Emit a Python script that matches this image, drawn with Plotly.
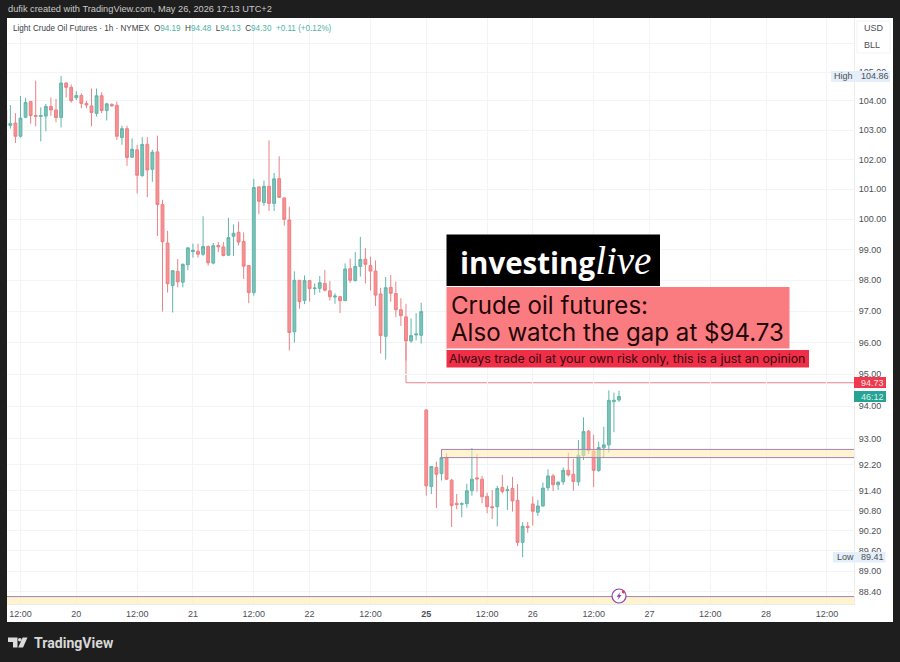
import numpy as np
import plotly.graph_objects as go

opens = [103.69,103.16,103.24,102.79,103.44,103.98,103.50,103.47,103.48,103.81,103.69,103.43,104.62,104.47,104.11,104.19,103.91,103.83,103.57,104.18,103.67,103.88,103.85,102.75,103.05,102.08,102.33,101.46,102.52,101.67,
102.26,100.49,99.22,97.83,98.29,97.94,98.51,98.94,98.95,98.85,99.10,98.56,99.14,
99.09,98.82,99.44,99.57,99.27,98.48,97.60,101.08,100.56,101.10,100.53,101.36,100.71,99.98,96.34,98.00,97.35,97.99,97.73,97.74,97.90,97.66,97.46,97.47,97.34,98.38,97.99,98.45,98.69,98.48,98.30,97.56,96.20,97.77,97.57,97.05,96.82,96.05,96.24,96.23,
93.88,91.53,92.11,91.92,92.41,91.72,91.02,90.99,91.01,91.40,91.79,91.75,91.23,90.92,90.92,91.50,91.40,91.47,91.11,89.85,90.33,91.00,90.75,90.94,91.49,91.85,91.58,91.67,92.02,91.90,91.67,92.47,93.22,92.61,92.01,92.71,92.80,94.14,94.19]
highs = [103.75,103.86,103.58,104.17,104.11,103.98,104.70,103.78,103.90,104.12,104.07,104.86,104.64,104.57,104.34,104.26,104.00,104.43,104.43,104.30,103.94,103.92,103.98,103.15,103.15,102.72,102.50,102.76,102.76,102.33,
102.81,100.65,99.62,98.32,98.69,98.55,99.06,99.20,99.20,100.10,99.14,99.22,99.25,
99.25,100.05,99.83,99.92,99.57,98.49,101.35,101.10,101.29,102.65,101.55,102.11,100.73,100.42,98.29,98.01,98.16,98.01,97.90,98.14,98.34,97.98,97.58,97.49,98.55,98.71,98.92,99.42,99.05,98.77,98.65,97.76,98.11,98.17,97.96,97.42,97.24,96.77,96.94,97.27,
93.90,92.15,92.29,92.42,92.54,91.76,91.30,91.05,91.61,92.70,92.52,91.85,91.34,91.42,91.55,91.88,91.55,91.82,91.60,90.45,90.46,91.23,91.12,91.65,92.05,91.91,91.68,92.11,92.56,92.37,92.95,93.65,93.26,93.11,92.90,93.36,94.49,94.42,94.48]
lows = [103.10,103.05,102.56,102.75,103.41,103.22,103.13,102.62,102.96,103.49,103.27,103.09,104.12,103.94,104.03,103.75,103.75,103.13,103.47,103.58,103.33,103.81,102.67,102.50,101.79,102.05,100.86,101.42,100.74,101.25,
99.45,96.99,97.60,96.96,97.77,97.77,98.33,98.74,98.74,98.80,98.48,98.52,98.92,
98.78,98.80,98.80,99.14,98.04,97.26,97.50,100.17,100.45,100.28,100.28,100.73,99.79,95.75,96.00,97.08,97.23,97.31,97.53,97.60,97.64,97.34,97.24,96.94,97.34,97.92,97.96,98.12,97.90,97.67,97.17,95.65,95.46,97.31,96.81,96.53,95.43,95.99,96.07,95.97,
91.25,91.30,90.88,91.71,91.73,90.31,90.84,90.60,90.89,91.25,91.37,91.02,90.72,90.55,90.33,91.32,90.82,90.77,89.74,89.41,90.14,90.35,90.64,90.92,91.40,91.39,91.42,91.58,91.83,91.40,91.55,92.34,92.52,91.51,91.98,92.42,92.56,93.19,94.13]
closes = [103.13,103.23,102.79,103.41,103.95,103.50,103.47,103.50,103.81,103.69,103.43,104.62,104.47,104.01,104.19,103.91,103.86,103.60,104.18,103.67,103.90,103.83,102.79,103.05,102.07,102.35,101.47,102.51,101.65,102.25,
100.49,99.26,97.89,98.31,97.95,98.52,99.06,98.98,98.85,99.10,98.57,99.13,99.09,
98.81,99.40,99.54,99.25,98.46,97.60,101.06,100.60,101.10,100.53,101.35,100.73,100.00,96.32,98.00,97.31,97.99,97.73,97.75,97.92,97.68,97.47,97.49,97.34,98.37,98.00,98.45,98.68,98.52,98.30,97.52,96.22,97.76,97.58,97.05,96.86,96.05,96.22,96.27,96.99,
91.55,92.14,91.90,92.41,91.75,90.95,90.98,91.01,91.40,91.75,91.76,91.22,90.92,90.89,91.47,91.38,91.43,91.09,89.85,90.33,90.29,90.78,90.94,91.48,91.85,91.58,91.66,92.02,91.88,91.68,92.48,93.21,92.62,92.02,92.72,92.80,94.18,94.18,94.30]
bar_index = list(range(1, len(opens) + 1))

x_tick_pos = [4, 15, 27, 38, 50, 61, 73, 84, 96, 105, 117, 128, 140, 151, 163]
x_tick_text = ["12:00", "20", "12:00", "21", "12:00", "22", "12:00", "<b>25</b>", "12:00", "26", "12:00", "27", "12:00", "28", "12:00"]
y_tick_vals = [106, 105, 104, 103, 102, 101, 100, 99, 98, 97, 96, 95, 94, 93, 92.2, 91.4, 90.8, 90.2, 89.6, 89, 88.4]
y_tick_text = [""] + [f"{v:.2f}" for v in y_tick_vals[1:]]

gap_price = 94.73
gap_start_bar = 80
gap_start_price = 96.05
zone1 = (87, 92.41, 92.66)
zone2 = (88.25, 87.5)
session_high = 104.86
session_low = 89.41
last_close = 94.30

W, H = 900, 662
L, R, T, B = 7, 854, 18, 604
X_RANGE = [1.34, 168.33]
Y_RANGE = [1.94465, 2.02897]
GRID = "#f3f4f6"
TXT = "#4c4f57"
FONT = "Liberation Sans"
DARK = "#1e1e1e"


def px(x):
    return (x - L) / (R - L)


def py(y):
    return (B - y) / (B - T)


def rect(x0, y0, x1, y1, fill, line=None, layer="below"):
    return dict(type="rect", xref="paper", yref="paper", x0=px(x0), x1=px(x1), y0=py(y0), y1=py(y1),
                fillcolor=fill, line=dict(color=line or fill, width=1 if line else 0), layer=layer)


def note(text, x, y, size=9, color=TXT, xa="left", ya="middle", family=FONT, **kw):
    return dict(text=text, xref="paper", yref="paper", x=px(x), y=py(y), xanchor=xa, yanchor=ya,
                showarrow=False, font=dict(size=size, color=color, family=family), borderpad=0, **kw)


fig = go.Figure(go.Candlestick(
    x=bar_index, open=opens, high=highs, low=lows, close=closes,
    increasing=dict(line=dict(color="#62b5a9", width=1), fillcolor="#79c3b9"),
    decreasing=dict(line=dict(color="#ea8286", width=1), fillcolor="#f98f90"),
    hoverinfo="skip", showlegend=False,
))

shapes = [
    rect(L, T, 893, 622, "#ffffff"),
    dict(type="line", xref="x", yref="y", x0=gap_start_bar, x1=gap_start_bar, y0=gap_start_price, y1=gap_price,
         line=dict(color="#e9838a", width=1), layer="below"),
    dict(type="line", xref="x", yref="y", x0=gap_start_bar, x1=X_RANGE[1], y0=gap_price, y1=gap_price,
         line=dict(color="#e9838a", width=1), layer="below"),
    dict(type="rect", xref="x", yref="y", x0=zone1[0], x1=X_RANGE[1] + 5, y0=zone1[1], y1=zone1[2],
         fillcolor="rgba(253,236,170,0.55)", line=dict(color="#a97fb3", width=1), layer="above"),
    dict(type="rect", xref="x", yref="y", x0=X_RANGE[0] - 5, x1=X_RANGE[1] + 5, y0=zone2[1], y1=zone2[0],
         fillcolor="rgba(253,236,170,0.55)", line=dict(color="#a97fb3", width=1), layer="above"),
    rect(857, 21, 890, 53, "#ffffff", "#f3f3f3", "above"),
    # boxes of the headline
    rect(446.5, 234.5, 660, 286, "#000000", layer="above"),
    rect(446.5, 287, 789.5, 348.5, "#fa7c81", layer="above"),
    rect(446.5, 350, 809, 367.5, "#ee2f47", layer="above"),
    # price labels
    rect(831, 71, 890, 82, "#e4eff9", layer="above"),
    rect(833, 552, 885.5, 562.5, "#e4eff9", layer="above"),
    rect(854, 377, 886, 388, "#ee3a4c", layer="above"),
    rect(854, 391, 886, 402, "#26a394", layer="above"),
    # lightning badge
    dict(type="circle", xref="paper", yref="paper", x0=px(612), x1=px(626), y0=py(603), y1=py(589),
         fillcolor="#ffffff", line=dict(color="#8c3fb5", width=1.2), layer="above"),
    dict(type="path", xref="paper", yref="paper", fillcolor="#8c3fb5", line=dict(width=0), layer="above",
         path=f"M{px(620.5)},{py(592)} L{px(616.5)},{py(596.8)} L{px(618.8)},{py(596.8)} L{px(617.6)},{py(600)} "
              f"L{px(621.6)},{py(595)} L{px(619.3)},{py(595)} Z"),
    dict(type="circle", xref="paper", yref="paper", x0=px(621.8), x1=px(625), y0=py(593.4), y1=py(590.2),
         fillcolor="#f0364a", line=dict(width=0), layer="above"),
    # TradingView mark
    dict(type="path", xref="paper", yref="paper", fillcolor="#dcdcdc", line=dict(width=0), layer="above",
         path=f"M{px(8)},{py(637.5)} L{px(17.5)},{py(637.5)} L{px(17.5)},{py(647.5)} L{px(13)},{py(647.5)} L{px(13)},{py(642)} L{px(8)},{py(642)} Z"),
    dict(type="circle", xref="paper", yref="paper", x0=px(18), x1=px(21.6), y0=py(641.6), y1=py(638),
         fillcolor="#dcdcdc", line=dict(width=0), layer="above"),
    dict(type="path", xref="paper", yref="paper", fillcolor="#dcdcdc", line=dict(width=0), layer="above",
         path=f"M{px(22.6)},{py(637.5)} L{px(27.5)},{py(637.5)} L{px(23)},{py(647.5)} L{px(18.2)},{py(647.5)} Z"),
]

G = "#4fb3a6"
legend_text = (
    'Light Crude Oil Futures · 1h · NYMEX  '
    f'O<span style="color:{G}">94.19</span>  H<span style="color:{G}">94.48</span>  '
    f'L<span style="color:{G}">94.13</span>  C<span style="color:{G}">94.30</span>  '
    f'<span style="color:{G}">+0.11 (+0.12%)</span>'
)

annotations = [
    note("dufik created with TradingView.com, May 26, 2026 17:13 UTC+2", 7, 9.5, size=9.25, color="#c9c9c9"),
    note(legend_text, 12, 28, size=8.15, color="#3c3f47"),
    note("USD", 863, 28.5), note("BLL", 863, 45),
    note("High", 833, 76), note(f"{session_high:.2f}", 860, 76),
    note("Low", 836, 557), note(f"{session_low:.2f}", 860, 557),
    note(f"{gap_price:.2f}", 860, 382.5, color="#fbe6e8"),
    note("46:12", 860, 396.5, color="#d8f2ee"),
    note('<span style="font-family:Open Sans"><b>investing</b></span>'
         '<span style="font-family:Liberation Serif;font-size:39px"><i>live</i></span>',
         459, 261, size=29.5, color="#ffffff"),
    note("Crude oil futures:", 449.5, 305, size=24.1, color="#230608", family="Inter"),
    note("Also watch the gap at $94.73", 449.5, 332, size=24.1, color="#230608", family="Inter"),
    note("Always trade oil at your own risk only, this is a just an opinion", 448, 358.5,
         size=12.35, color="#3b0710", family="Inter"),
    note("<b>TradingView</b>", 33, 642.5, size=14.1, color="#d8d8d8", family="Roboto"),
]

fig.update_layout(
    width=W, height=H, autosize=False,
    margin=dict(l=L, r=W - R, t=T, b=H - B, pad=0),
    paper_bgcolor=DARK, plot_bgcolor="#ffffff",
    boxgap=0.2, dragmode=False, showlegend=False,
    font=dict(family=FONT, size=9, color=TXT),
    shapes=shapes, annotations=annotations,
    xaxis=dict(type="linear", range=X_RANGE, rangeslider=dict(visible=False), tickmode="array",
               tickvals=x_tick_pos, ticktext=x_tick_text, showgrid=True, gridcolor=GRID, gridwidth=1,
               zeroline=False, showline=True, linecolor="#ececec", linewidth=1, ticks="", ticklabelstandoff=1,
               tickfont=dict(size=9, color=TXT, family=FONT)),
    yaxis=dict(type="log", range=Y_RANGE, side="right", tickmode="array", tickvals=y_tick_vals,
               ticktext=y_tick_text, showgrid=True, gridcolor=GRID, gridwidth=1, zeroline=False,
               showline=True, linecolor="#ececec", linewidth=1, ticks="", ticklabelstandoff=2,
               tickfont=dict(size=9, color=TXT, family=FONT)),
)

fig.write_html("out.html", config=dict(displayModeBar=False, staticPlot=True),
               post_script="document.body.style.margin='0';document.body.style.overflow='hidden';"
                           f"document.body.style.background='{DARK}';")
